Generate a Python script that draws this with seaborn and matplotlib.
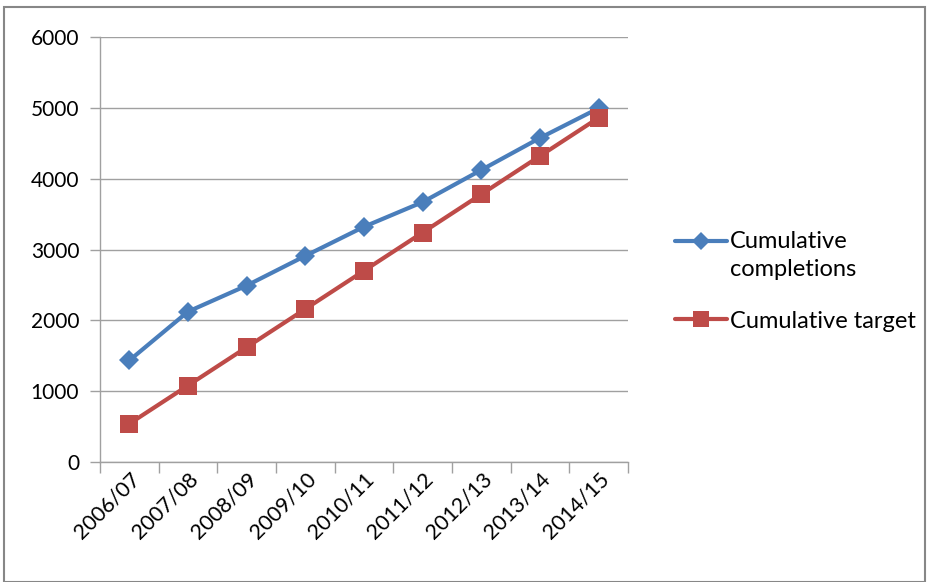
import matplotlib
matplotlib.use("Agg")
import matplotlib.pyplot as plt
import seaborn as sns
import pandas as pd
import numpy as np
from matplotlib.patches import Rectangle
from matplotlib.lines import Line2D
from matplotlib.legend_handler import HandlerLine2D

years = ["2006/07", "2007/08", "2008/09", "2009/10", "2010/11",
         "2011/12", "2012/13", "2013/14", "2014/15"]
completions = [1434, 2123, 2491, 2910, 3321, 3670, 4123, 4575, 4995]
target = [540, 1080, 1620, 2160, 2700, 3240, 3780, 4320, 4860]
series_names = ["Cumulative\ncompletions", "Cumulative target"]

sns.set_theme(style="white")
plt.rcParams['font.family'] = ['Lato', 'DejaVu Sans']

df = pd.DataFrame({
    "pos": list(range(len(years))) * 2,
    "value": completions + target,
    "series": [series_names[0]] * len(years) + [series_names[1]] * len(years),
})

fig = plt.figure(figsize=(9.30, 5.82), dpi=100)
ax = fig.add_axes([100/930, 1 - 462/582, 528/930, 425/582])

colors = {series_names[0]: "#4A7EBB", series_names[1]: "#BE4B48"}
markers = {series_names[0]: "D", series_names[1]: "s"}
sizes = {series_names[0]: 10, series_names[1]: 13}
for name in series_names:
    sub = df[df["series"] == name]
    sns.lineplot(data=sub, x="pos", y="value", ax=ax, color=colors[name],
                 marker=markers[name], markersize=sizes[name], linewidth=3,
                 markeredgewidth=0, legend=False)

fs = 15
ax.set_xlim(-0.5, len(years) - 0.5)
ax.set_ylim(0, 6000)
ax.set_yticks(np.arange(0, 6001, 1000))
ax.set_xticks(np.arange(-0.5, len(years), 1.0))
ax.set_xticklabels([])
ax.set_xticks(np.arange(len(years)), minor=True)
ax.set_xticklabels(years, minor=True, rotation=45, ha="right",
                   rotation_mode="anchor", fontsize=15.5, color="#000000")
ax.tick_params(axis="x", which="major", length=8, width=1, color="#A0A0A0", direction="out", bottom=True)
ax.tick_params(axis="x", which="minor", length=0, pad=5)
ax.tick_params(axis="y", which="major", length=7, width=1, color="#A0A0A0", direction="out", left=True,
               labelsize=fs, pad=8, labelcolor="#000000")
ax.grid(axis="y", color="#A0A0A0", linewidth=1)
ax.set_axisbelow(True)
for s in ["top", "right"]:
    ax.spines[s].set_visible(False)
for s in ["left", "bottom"]:
    ax.spines[s].set_color("#A0A0A0")
    ax.spines[s].set_linewidth(1)
ax.set_xlabel("")
ax.set_ylabel("")


class ShiftedHandler(HandlerLine2D):
    def __init__(self, dy=0.0, **kw):
        super().__init__(**kw)
        self.dy = dy

    def create_artists(self, legend, orig_handle, xdescent, ydescent, width, height, fontsize, trans):
        arts = super().create_artists(legend, orig_handle, xdescent, ydescent, width, height, fontsize, trans)
        for a in arts:
            a.set_ydata(np.asarray(a.get_ydata()) + self.dy)
        return arts


handles = [Line2D([0], [0], color=colors[n], marker=markers[n], markersize=m,
                  linewidth=3, markeredgewidth=0) for n, m in zip(series_names, [9, 12])]
leg = fig.legend(handles, series_names, loc="upper left", bbox_to_anchor=(666/930, 1 - 222/582),
                 frameon=False, fontsize=17, handlelength=2.2, handletextpad=0.1,
                 labelspacing=1.3, borderaxespad=0,
                 handler_map={handles[0]: ShiftedHandler(dy=11), handles[1]: ShiftedHandler(dy=0)})
for t in leg.get_texts():
    t.set_linespacing(1.38)
    t.set_color("#000000")

fig.patches.append(Rectangle((4/930, 0), 921/930, 1 - 7/582, transform=fig.transFigure,
                             fill=False, edgecolor="#878787", linewidth=1.5))

fig.savefig("out.png", dpi=100)
